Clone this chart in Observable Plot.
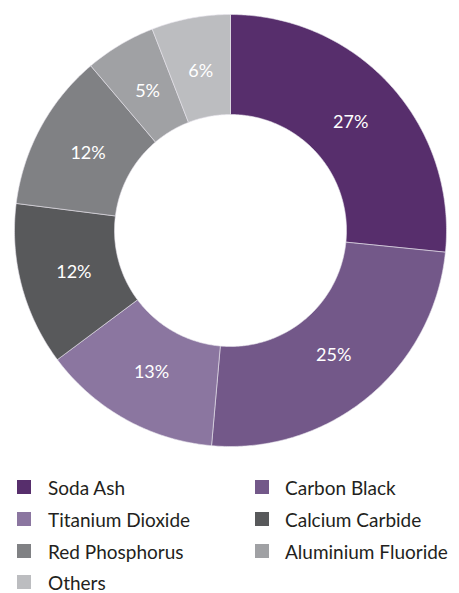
<!DOCTYPE html>
<html>
<head>
<meta charset="utf-8">
<script src="https://cdn.jsdelivr.net/npm/d3@7"></script>
<script src="https://cdn.jsdelivr.net/npm/@observablehq/plot@0.6"></script>
<style>
  html, body { margin: 0; background: #fff; font-family: Lato, "Open Sans", sans-serif; }
  #chart { position: relative; width: 459px; }
  .legend { display: grid; grid-template-columns: 255px 204px; padding-top: 11px; }
  .item { height: 32px; display: flex; align-items: center; font-size: 19px; line-height: 1; color: #231f20; white-space: nowrap; }
  .item.last { height: 25px; align-items: flex-end; }
  .sw { width: 14px; height: 14px; margin-left: 17px; margin-right: 17px; flex: none; }
  .item.last .sw { margin-bottom: 3px; }
  .item.c2 .sw { margin-left: 0; margin-right: 16px; }
</style>
</head>
<body>
<div id="chart"></div>
<script>
const categories = ["Soda Ash", "Carbon Black", "Titanium Dioxide", "Calcium Carbide", "Red Phosphorus", "Aluminium Fluoride", "Others"];
const shares = [26.6, 24.8, 13.4, 12.2, 11.8, 5.3, 5.9];
const shareLabels = ["27%", "25%", "13%", "12%", "12%", "5%", "6%"];
const colors = ["#572e6c", "#735889", "#8b76a0", "#58595b", "#808184", "#a0a1a4", "#bcbdc0"];
const legendOrder = ["Soda Ash", "Carbon Black", "Titanium Dioxide", "Calcium Carbide", "Red Phosphorus", "Aluminium Fluoride", "Others"];

const inner = 0.537, outer = 1;
const pie = d3.pie().sort(null).value(d => d.value)(categories.map((c, i) => ({name: c, value: shares[i], label: shareLabels[i]})));

const ring = [];
const labels = [];
pie.forEach(s => {
  const steps = Math.max(8, Math.ceil((s.endAngle - s.startAngle) / 0.01));
  const pts = [];
  for (let k = 0; k <= steps; k++) {
    const a = s.startAngle + (s.endAngle - s.startAngle) * k / steps;
    pts.push({name: s.data.name, x: outer * Math.sin(a), y: outer * Math.cos(a)});
  }
  for (let k = steps; k >= 0; k--) {
    const a = s.startAngle + (s.endAngle - s.startAngle) * k / steps;
    pts.push({name: s.data.name, x: inner * Math.sin(a), y: inner * Math.cos(a)});
  }
  pts.push(pts[0]);
  ring.push(...pts);
  const m = (s.startAngle + s.endAngle) / 2, r = 0.75;
  labels.push({name: s.data.name, x: r * Math.sin(m), y: r * Math.cos(m), text: s.data.label});
});

const plot = Plot.plot({
  width: 459,
  height: 460,
  marginLeft: 14, marginRight: 13, marginTop: 14, marginBottom: 14,
  x: {domain: [-1, 1], axis: null},
  y: {domain: [-1, 1], axis: null},
  color: {domain: categories, range: colors},
  style: {fontFamily: "Lato, 'Open Sans', sans-serif", background: "white"},
  marks: [
    Plot.line(ring, {x: "x", y: "y", z: "name", fill: "name", stroke: "#e8e4ec", strokeWidth: 0.6, curve: "linear"}),
    Plot.text(labels, {x: "x", y: "y", text: "text", fill: "white", fontSize: 18})
  ]
});
document.getElementById("chart").appendChild(plot);

const legend = document.createElement("div");
legend.className = "legend";
legendOrder.forEach((name, i) => {
  const it = document.createElement("div");
  it.className = "item" + (i % 2 ? " c2" : "") + (i === legendOrder.length - 1 ? " last" : "");
  const sw = document.createElement("span");
  sw.className = "sw";
  sw.style.background = colors[categories.indexOf(name)];
  const t = document.createElement("span");
  t.textContent = name;
  it.appendChild(sw); it.appendChild(t);
  legend.appendChild(it);
});
document.getElementById("chart").appendChild(legend);
</script>
</body>
</html>
